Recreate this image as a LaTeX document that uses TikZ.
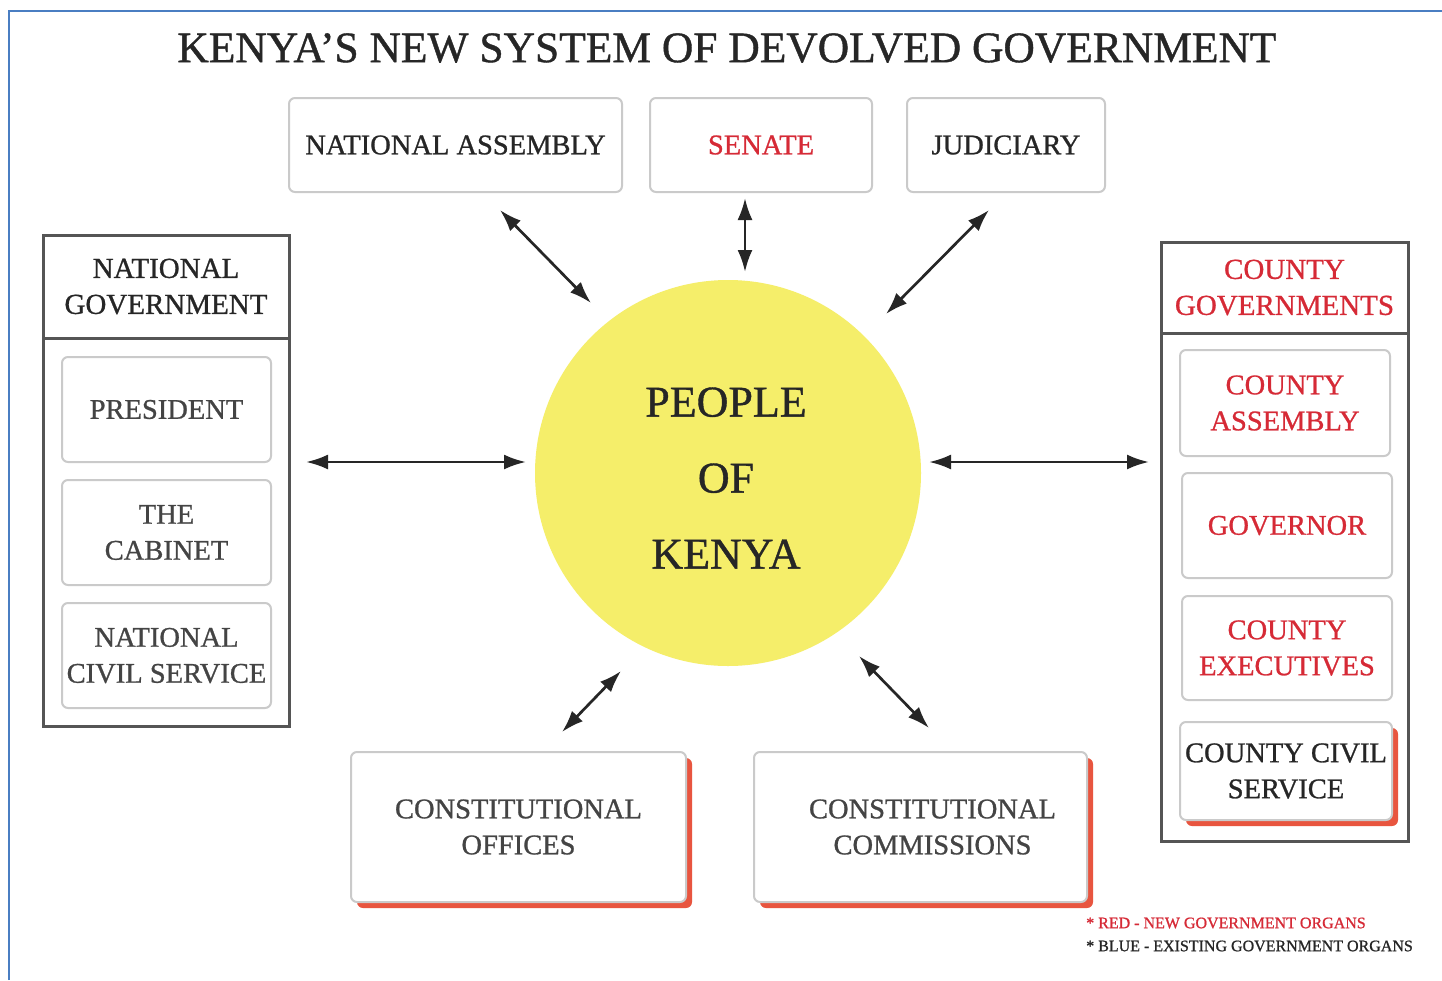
\documentclass[tikz,border=0pt]{standalone}
\usepackage{fontspec}
\setmainfont[FakeBold=0.9]{Liberation Serif}
\usetikzlibrary{arrows.meta,shadows}
\definecolor{frameblue}{HTML}{4A7EC2}
\definecolor{kred}{HTML}{D62A36}
\definecolor{boxgray}{HTML}{CACACA}
\definecolor{darkframe}{HTML}{555555}
\definecolor{sunyellow}{HTML}{F5EE6A}
\definecolor{shred}{HTML}{E8553F}
\definecolor{txt}{HTML}{262626}
\definecolor{txtgray}{HTML}{444444}
\begin{document}
\begin{tikzpicture}[x=1pt,y=-1pt,
  box/.style={draw=boxgray, line width=2pt, rounded corners=6pt, fill=white, align=center, inner sep=0pt, text=txtgray, font=\fontsize{28.5}{36}\selectfont},
  redbox/.style={box, text=kred},
  shbox/.style={box, drop shadow={shadow xshift=6pt, shadow yshift=-6pt, fill=shred, opacity=1}},
  group/.style={draw=darkframe, line width=3pt, fill=white, inner sep=0pt, align=center, font=\fontsize{29}{36}\selectfont},
  link/.style={{Latex[length=22pt,width=15pt]}-{Latex[length=22pt,width=15pt]}, line width=2.7pt, draw=black!85},
  legend/.style={anchor=west, inner sep=0pt, font=\fontsize{16}{18}\selectfont},
]
\useasboundingbox (0,0) rectangle (1442,980);
\fill[white] (0,0) rectangle (1442,980);
\draw[frameblue, line width=2.5pt] (9,980) -- (9,11) -- (1442,11);

% title
\node[text=txt, font=\fontsize{43.5}{48}\selectfont] (title) at (727,48) {KENYA’S NEW SYSTEM OF DEVOLVED GOVERNMENT};

% top boxes
\node[box, text=txt, minimum width=333pt, minimum height=94pt] (na) at (455.5,145) {NATIONAL ASSEMBLY};
\node[redbox, minimum width=222pt, minimum height=94pt] (sen) at (761,145) {SENATE};
\node[box, text=txt, minimum width=198pt, minimum height=94pt] (jud) at (1006,145) {JUDICIARY};

% centre
\node[circle, fill=sunyellow, minimum size=386pt, inner sep=0pt] (people) at (728,473) {};
\node[text=txt, align=center, font=\fontsize{44}{76}\selectfont] (peopletext) at (726,478) {PEOPLE\\OF\\KENYA};

% national government
\node[group, text=txt, minimum width=246pt, minimum height=103pt] (ngh) at (166,286.5) {NATIONAL\\GOVERNMENT};
\node[group, minimum width=246pt, minimum height=388pt] (ngb) at (166,532) {};
\node[box, minimum width=209pt, minimum height=105pt] (pres) at (166.5,409.5) {PRESIDENT};
\node[box, minimum width=209pt, minimum height=105pt] (cab) at (166.5,532.5) {THE\\CABINET};
\node[box, minimum width=209pt, minimum height=105pt] (ncs) at (166.5,655.5) {NATIONAL\\CIVIL SERVICE};

% county governments
\node[group, text=kred, minimum width=247pt, minimum height=91pt] (cgh) at (1284.5,287.5) {COUNTY\\GOVERNMENTS};
\node[group, minimum width=247pt, minimum height=508pt] (cgb) at (1284.5,587) {};
\node[redbox, minimum width=210pt, minimum height=106pt] (ca) at (1285,403) {COUNTY\\ASSEMBLY};
\node[redbox, minimum width=210pt, minimum height=105pt] (gov) at (1287,525.5) {GOVERNOR};
\node[redbox, minimum width=210pt, minimum height=104pt] (ce) at (1287,648) {COUNTY\\EXECUTIVES};
\node[shbox, text=txt, minimum width=212pt, minimum height=98pt] (ccs) at (1286,771) {COUNTY CIVIL\\SERVICE};

% constitutional bodies
\node[shbox, minimum width=335pt, minimum height=150pt] (co) at (518.5,827) {CONSTITUTIONAL\\OFFICES};
\node[shbox, minimum width=333pt, minimum height=150pt] (cc) at (920.5,827) {\hspace*{24pt}CONSTITUTIONAL\\\hspace*{24pt}COMMISSIONS};

% arrows
\coordinate (naA) at (500,210);   \coordinate (naB) at (591,303);
\coordinate (senA) at (745,198);  \coordinate (senB) at (745,272);
\coordinate (judA) at (989,210);  \coordinate (judB) at (886,314);
\coordinate (ngA) at (306,462);   \coordinate (ngB) at (526,462);
\coordinate (cgA) at (929,462);   \coordinate (cgB) at (1149,462);
\coordinate (coA) at (621,671);   \coordinate (coB) at (562,732);
\coordinate (ccA) at (859,656);   \coordinate (ccB) at (929,728);
\draw[link] (naA) -- (naB);
\draw[link] (senA) -- (senB);
\draw[link] (judA) -- (judB);
\draw[link] (ngA) -- (ngB);
\draw[link] (cgA) -- (cgB);
\draw[link] (coA) -- (coB);
\draw[link] (ccA) -- (ccB);

% legend
\node[legend, text=kred] (leg1) at (1086,923) {* RED - NEW GOVERNMENT ORGANS};
\node[legend, text=txt] (leg2) at (1086,946) {* BLUE - EXISTING GOVERNMENT ORGANS};
\end{tikzpicture}
\end{document}
